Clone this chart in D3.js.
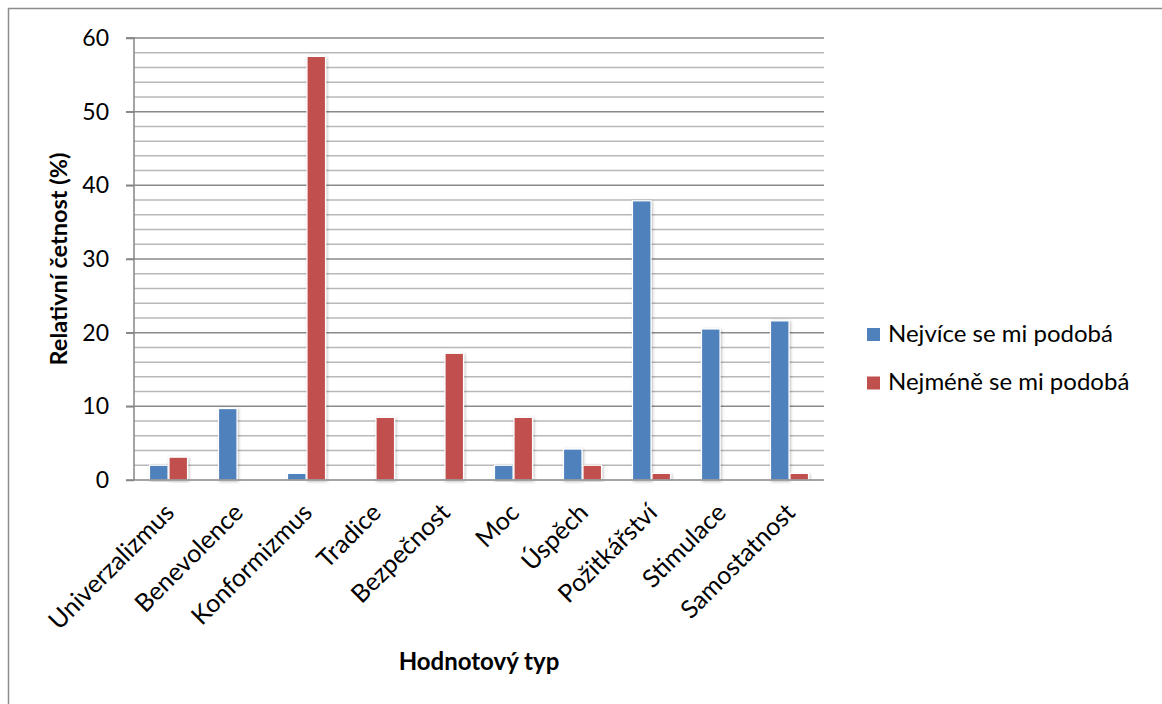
<!DOCTYPE html>
<html>
<head>
<meta charset="utf-8">
<script src="https://cdnjs.cloudflare.com/ajax/libs/d3/7.8.5/d3.min.js"></script>
<style>
  html, body { margin: 0; padding: 0; background: #fff; }
  svg { display: block; }
  text { font-family: Lato, "Open Sans", sans-serif; fill: #000; }
</style>
</head>
<body>
<svg id="chart" width="1162" height="704"></svg>
<script>
// Hodnotové typy (Schwartz) a relativní četnosti v procentech
const categories = ["Univerzalizmus", "Benevolence", "Konformizmus", "Tradice", "Bezpečnost",
                    "Moc", "Úspěch", "Požitkářství", "Stimulace", "Samostatnost"];
const seriesNames = ["Nejvíce se mi podobá", "Nejméně se mi podobá"];
const mostSimilar  = [2.0, 9.7, 0.9, 0, 0, 2.0, 4.2, 37.9, 20.5, 21.6];
const leastSimilar = [3.1, 0, 57.5, 8.5, 17.2, 8.5, 2.0, 0.9, 0, 0.9];
const yTicks = [0, 10, 20, 30, 40, 50, 60];
const yMinorTicks = d3.range(0, 61, 2);
const colors = ["#4f81bd", "#c0504d"];

const svg = d3.select("#chart");
const plotLeft = 134, plotRight = 824, plotTop = 38, plotBottom = 480;
const FONT = "Lato, 'Open Sans', sans-serif";

// Vnější rámeček grafu
svg.append("rect")
  .attr("x", 8.5).attr("y", 8.5).attr("width", 1300).attr("height", 900)
  .attr("fill", "none").attr("stroke", "#8c8c8c").attr("stroke-width", 1.5);

const defs = svg.append("defs");
const f = defs.append("filter").attr("id", "glow")
  .attr("x", "-40%").attr("y", "-10%").attr("width", "180%").attr("height", "120%");
f.append("feDropShadow").attr("dx", 1).attr("dy", 1).attr("stdDeviation", 1.6)
  .attr("flood-color", "#000").attr("flood-opacity", 0.28);

const x = d3.scaleBand().domain(categories).range([plotLeft, plotRight]).paddingInner(0).paddingOuter(0);
const y = d3.scaleLinear().domain([0, 60]).range([plotBottom, plotTop]);
const x1 = d3.scaleBand().domain([0, 1]).range([x.bandwidth() / 2 - 20, x.bandwidth() / 2 + 20]).padding(0.05);

// Vedlejší a hlavní mřížka
svg.append("g").selectAll("line")
  .data(yMinorTicks.filter(v => v % 10 !== 0))
  .join("line")
  .attr("x1", plotLeft).attr("x2", plotRight)
  .attr("y1", d => y(d)).attr("y2", d => y(d))
  .attr("stroke", "#b8b8b8").attr("stroke-width", 1.5);
svg.append("g").selectAll("line")
  .data(yTicks.filter(v => v !== 0))
  .join("line")
  .attr("x1", plotLeft - 8).attr("x2", plotRight)
  .attr("y1", d => y(d)).attr("y2", d => y(d))
  .attr("stroke", "#8a8a8a").attr("stroke-width", 1.5);

// Sloupce
const series = [mostSimilar, leastSimilar];
const groups = svg.append("g").selectAll("g")
  .data(categories)
  .join("g")
  .attr("transform", d => `translate(${x(d)},0)`);
groups.selectAll("rect")
  .data((d, i) => series.map((s, k) => ({ k, v: s[i] })).filter(o => o.v > 0))
  .join("rect")
  .attr("x", o => x1(o.k))
  .attr("width", x1.bandwidth())
  .attr("y", o => y(o.v))
  .attr("height", o => y(0) - y(o.v))
  .attr("fill", o => colors[o.k])
  .attr("stroke", "#fff").attr("stroke-width", 1.2)
  .attr("filter", "url(#glow)");

// Osy
const yAxis = d3.axisLeft(y).tickValues(yTicks).tickSize(8).tickPadding(17);
const gy = svg.append("g").attr("transform", `translate(${plotLeft},0)`).call(yAxis);
gy.select(".domain").attr("stroke", "#868686").attr("stroke-width", 1.5).attr("d", `M-8,${plotTop}H0V${plotBottom}`);
gy.selectAll(".tick line").attr("stroke", "#868686").attr("stroke-width", 1.5);
gy.selectAll(".tick text").style("font-size", "23px").style("font-family", FONT).attr("fill", "#000");

const xAxis = d3.axisBottom(x).tickSize(0).tickFormat(d => d);
const gx = svg.append("g").attr("transform", `translate(0,${plotBottom})`).call(xAxis);
gx.select(".domain").attr("stroke", "#868686").attr("stroke-width", 1.5).attr("d", `M${plotLeft - 8},0H${plotRight}`);
gx.selectAll(".tick text")
  .style("font-size", "25px").style("font-family", FONT).attr("fill", "#000")
  .attr("text-anchor", "end")
  .attr("transform", "translate(1,28) rotate(-45)")
  .attr("dy", "0.35em").attr("y", 0).attr("x", 0);

// Popisky os
svg.append("text")
  .attr("transform", `translate(67,${(plotTop + plotBottom) / 2}) rotate(-90)`)
  .attr("text-anchor", "middle")
  .style("font-size", "23.5px").style("font-weight", "bold")
  .text("Relativní četnost (%)");
svg.append("text")
  .attr("x", (plotLeft + plotRight) / 2).attr("y", 670)
  .attr("text-anchor", "middle")
  .style("font-size", "24px").style("font-weight", "bold")
  .text("Hodnotový typ");

// Legenda
const legend = svg.append("g").attr("transform", "translate(867,328)");
seriesNames.forEach((name, i) => {
  const row = legend.append("g").attr("transform", `translate(0,${i * 48.5})`);
  row.append("rect").attr("width", 13).attr("height", 13).attr("fill", colors[i]);
  row.append("text").attr("x", 21).attr("y", 13.5).style("font-size", "24px").text(name);
});
</script>
</body>
</html>
